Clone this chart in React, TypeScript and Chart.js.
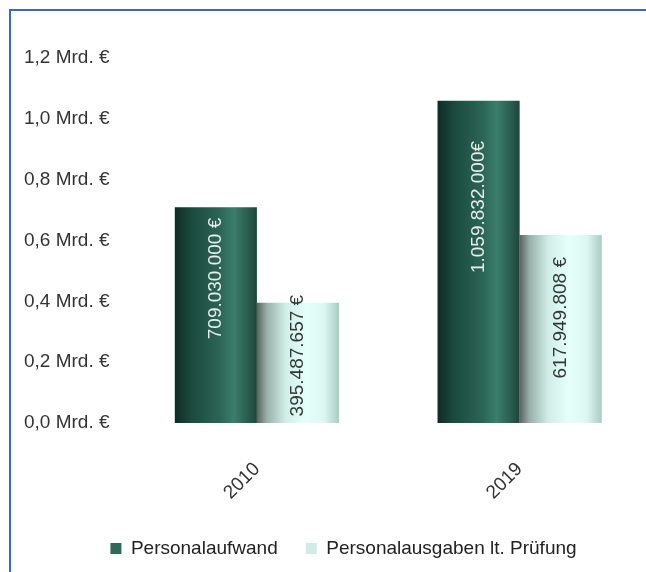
import React, { useEffect, useRef } from "react";
import { Chart, registerables } from "chart.js";

Chart.register(...registerables);

const categories = ["2010", "2019"];
const seriesNames = ["Personalaufwand", "Personalausgaben lt. Prüfung"];
const personalaufwand = [709030000, 1059832000];
const personalausgaben = [395487657, 617949808];
const labelsAufwand = ["709.030.000 €", "1.059.832.000€"];
const labelsAusgaben = ["395.487.657 €", "617.949.808 €"];
const yTicks = [0, 0.2e9, 0.4e9, 0.6e9, 0.8e9, 1.0e9, 1.2e9];

const FONT = "'Liberation Sans', Arial, sans-serif";
const FS = 19;

const gradientStops = [
  [
    [0, "#0f2c24"],
    [0.2, "#1b4a3d"],
    [0.55, "#2c6555"],
    [0.72, "#3b7e6b"],
    [0.88, "#2b5f50"],
    [1, "#1d4639"],
  ],
  [
    [0, "#5b625f"],
    [0.12, "#98b0a9"],
    [0.35, "#d2eee7"],
    [0.6, "#e6fffa"],
    [0.82, "#dcf7f1"],
    [1, "#aacbc2"],
  ],
];

const gradientPlugin = {
  id: "barGradients",
  beforeDatasetsDraw(chart: any) {
    const ctx = chart.ctx;
    chart.data.datasets.forEach((_: any, di: number) => {
      const meta = chart.getDatasetMeta(di);
      meta.data.forEach((el: any) => {
        const g = ctx.createLinearGradient(el.x - el.width / 2, 0, el.x + el.width / 2, 0);
        gradientStops[di].forEach(([o, c]: any) => g.addColorStop(o, c));
        el.options = Object.assign({}, el.options, { backgroundColor: g });
      });
    });
  },
};

const legendShiftPlugin = {
  id: "legendShift",
  afterLayout(chart: any) {
    const l = chart.legend;
    if (l) {
      l.left += 14;
      l.right += 14;
    }
  },
};

const dataLabelPlugin = {
  id: "rotatedLabels",
  afterDatasetsDraw(chart: any) {
    const ctx = chart.ctx;
    const texts = [labelsAufwand, labelsAusgaben];
    const colors = ["#e6eeeb", "#2f3a37"];
    const frac = [0.67, 0.56];
    chart.data.datasets.forEach((_: any, di: number) => {
      const meta = chart.getDatasetMeta(di);
      meta.data.forEach((el: any, i: number) => {
        const y = el.base - frac[di] * (el.base - el.y);
        ctx.save();
        ctx.translate(el.x, y);
        ctx.rotate(-Math.PI / 2);
        ctx.font = `${FS}px ${FONT}`;
        ctx.fillStyle = colors[di];
        ctx.textAlign = "center";
        ctx.textBaseline = "middle";
        ctx.fillText(texts[di][i], 0, 0);
        ctx.restore();
      });
    });
  },
};

export default function App() {
  const ref = useRef<HTMLCanvasElement>(null);
  useEffect(() => {
    if (!ref.current) return;
    const chart = new Chart(ref.current, {
      type: "bar",
      data: {
        labels: categories,
        datasets: [
          {
            label: seriesNames[0],
            data: personalaufwand,
            backgroundColor: "#2d6a58",
            borderWidth: 0,
          },
          {
            label: seriesNames[1],
            data: personalausgaben,
            backgroundColor: "#d2ebe5",
            borderWidth: 0,
          },
        ],
      },
      options: {
        animation: false,
        responsive: false,
        maintainAspectRatio: false,
        categoryPercentage: 0.625,
        barPercentage: 1,
        layout: { padding: { left: 8, right: 9, top: 58, bottom: 4 } },
        plugins: {
          legend: {
            position: "bottom",
            labels: {
              boxWidth: 11,
              boxHeight: 11,
              padding: 28,
              color: "#222",
              font: { size: FS, family: FONT },
            },
          },
          tooltip: { enabled: false },
        },
        scales: {
          x: {
            grid: { display: false, drawTicks: false },
            border: { display: false },
            afterFit: (s: any) => {
              s.paddingLeft = 0;
              s.paddingRight = 0;
              s.height -= 28;
            },
            ticks: {
              minRotation: 45,
              maxRotation: 45,
              padding: 35,
              color: "#333",
              font: { size: FS, family: FONT },
            },
          },
          y: {
            min: 0,
            max: 1.2e9,
            grid: { display: false, drawTicks: false },
            border: { display: false },
            afterBuildTicks: (scale: any) => {
              scale.ticks = yTicks.map((v) => ({ value: v }));
            },
            ticks: {
              padding: 16,
              color: "#333",
              font: { size: FS, family: FONT },
              callback: (v: any) => (Number(v) / 1e9).toFixed(1).replace(".", ",") + " Mrd. €",
            },
          },
        },
      },
      plugins: [gradientPlugin, dataLabelPlugin, legendShiftPlugin],
    });
    return () => chart.destroy();
  }, []);

  return (
    <div style={{ position: "fixed", left: 0, top: 0, width: 646, height: 572, overflow: "hidden", background: "#fff" }}>
      <canvas ref={ref} width={660} height={572} style={{ position: "absolute", left: 0, top: 0 }} />
      <div
        style={{
          position: "absolute",
          left: 9,
          top: 9,
          width: 660,
          height: 600,
          borderLeft: "2px solid #3d67c4",
          borderTop: "2px solid #3d67c4",
          pointerEvents: "none",
        }}
      />
    </div>
  );
}
